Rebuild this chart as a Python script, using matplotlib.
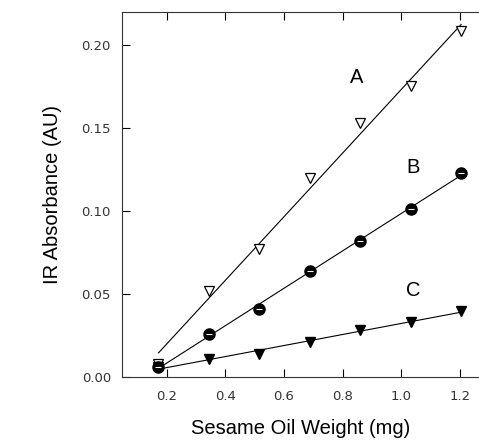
import numpy as np
import matplotlib
matplotlib.use("Agg")
import matplotlib.pyplot as plt

plt.rcParams['font.family'] = ['Liberation Sans', 'DejaVu Sans']

# Data
weight_mg = [0.172, 0.344, 0.516, 0.688, 0.860, 1.032, 1.204]
series_A = [0.008, 0.052, 0.077, 0.120, 0.153, 0.175, 0.208]
series_B = [0.006, 0.026, 0.041, 0.064, 0.082, 0.101, 0.123]
series_C = [0.006, 0.011, 0.014, 0.021, 0.028, 0.033, 0.040]
labels = ["A", "B", "C"]
label_pos = [(0.848, 0.180), (1.039, 0.126), (1.040, 0.052)]
x_ticks = [0.2, 0.4, 0.6, 0.8, 1.0, 1.2]
y_ticks = [0.00, 0.05, 0.10, 0.15, 0.20]

fig = plt.figure(figsize=(4.79, 4.41), dpi=100)
ax = fig.add_axes([122/479, 1-377/441, 1-122/479, (377-12)/441])

x = np.array(weight_mg)
for ys in (series_A, series_B, series_C):
    k, b = np.polyfit(x, ys, 1)
    ax.plot([x[0], x[-1]], [k*x[0]+b, k*x[-1]+b], color='black', lw=0.8, zorder=2)

ax.plot(x, series_A, linestyle='none', marker='v', markersize=7.5,
        markerfacecolor='white', markeredgecolor='black', markeredgewidth=0.9, zorder=3)
ax.plot(x, series_C, linestyle='none', marker='v', markersize=7.5,
        markerfacecolor='black', markeredgecolor='black', zorder=3)
ax.plot(x, series_B, linestyle='none', marker='o', markersize=8,
        markerfacecolor='black', markeredgecolor='black', zorder=4)
ax.plot(x, series_B, linestyle='none', marker='_', markersize=5,
        markeredgecolor='white', markeredgewidth=0.8, zorder=5)

for lab, (lx, ly) in zip(labels, label_pos):
    ax.text(lx, ly, lab, fontsize=14.5, ha='center', va='center', color='black')

ax.set_xlim(0.0476, 1.265)
ax.set_ylim(0.0, 0.2196)
ax.set_xticks(x_ticks)
ax.set_yticks(y_ticks)
ax.set_xticklabels([f"{v:.1f}" for v in x_ticks], family='DejaVu Sans')
ax.set_yticklabels([f"{v:.2f}" for v in y_ticks], family='DejaVu Sans')
ax.tick_params(direction='in', length=6, width=0.8, labelsize=9.5,
               labelcolor='#333333', top=True)
ax.tick_params(axis='x', pad=9)
ax.tick_params(axis='y', pad=8)
ax.spines['right'].set_visible(False)
for s in ('left', 'bottom', 'top'):
    ax.spines[s].set_linewidth(0.8)
    ax.spines[s].set_color('#333333')

ax.set_xlabel("Sesame Oil Weight (mg)", fontsize=14.5, labelpad=12)
ax.set_ylabel("IR Absorbance (AU)", fontsize=14.5, labelpad=14)

fig.savefig("out.png", dpi=100)
